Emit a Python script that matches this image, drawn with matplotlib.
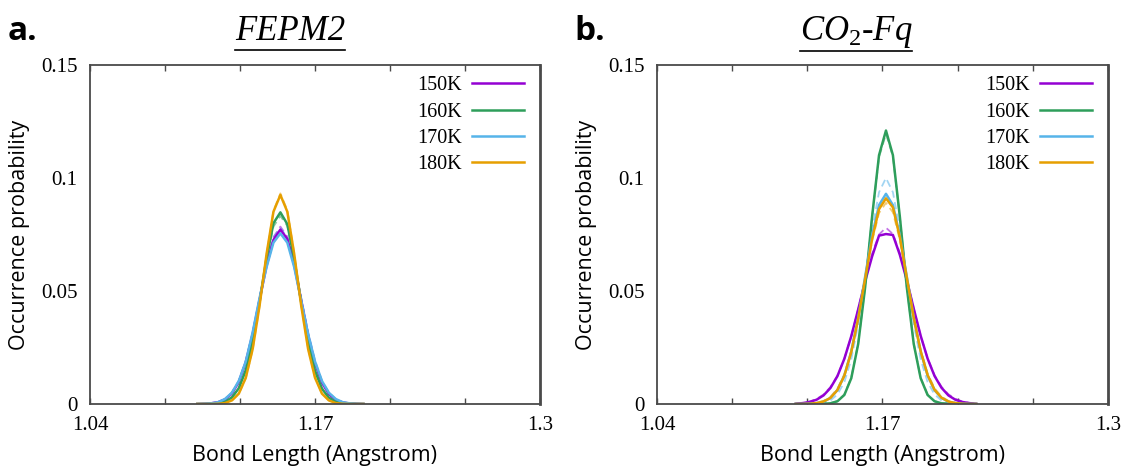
import matplotlib
matplotlib.use("Agg")
import matplotlib.pyplot as plt
from matplotlib.lines import Line2D

# ---------------- data ----------------
temps = ["150K", "160K", "170K", "180K"]
colors = ["#9400d3", "#2e9e5b", "#56b4e9", "#e69f00"]

# Panel a: FEPM2
x_fepm2 = [1.102, 1.106, 1.110, 1.114, 1.118, 1.122, 1.126, 1.130, 1.134, 1.138,
           1.142, 1.146, 1.150, 1.154, 1.158, 1.162, 1.166, 1.170, 1.174, 1.178,
           1.182, 1.186, 1.190, 1.194, 1.198]
fepm2_150_solid = [0.0000, 0.0001, 0.0003, 0.0008, 0.0020, 0.0047, 0.0098, 0.0185, 0.0310, 0.0462,
                   0.0612, 0.0726, 0.0772, 0.0730, 0.0615, 0.0460, 0.0305, 0.0180, 0.0095, 0.0045,
                   0.0018, 0.0007, 0.0002, 0.0001, 0.0000]
fepm2_150_dash = [0.0000, 0.0001, 0.0003, 0.0008, 0.0019, 0.0046, 0.0097, 0.0184, 0.0312, 0.0466,
                  0.0618, 0.0738, 0.0785, 0.0741, 0.0622, 0.0465, 0.0308, 0.0182, 0.0096, 0.0044,
                  0.0018, 0.0007, 0.0002, 0.0001, 0.0000]
fepm2_160_solid = [0.0000, 0.0000, 0.0001, 0.0003, 0.0010, 0.0029, 0.0070, 0.0149, 0.0279, 0.0455,
                   0.0645, 0.0800, 0.0848, 0.0796, 0.0641, 0.0451, 0.0276, 0.0147, 0.0068, 0.0028,
                   0.0010, 0.0003, 0.0001, 0.0000, 0.0000]
fepm2_160_dash = [0.0000, 0.0000, 0.0001, 0.0003, 0.0011, 0.0030, 0.0072, 0.0152, 0.0283, 0.0458,
                  0.0640, 0.0785, 0.0832, 0.0788, 0.0642, 0.0456, 0.0280, 0.0150, 0.0070, 0.0029,
                  0.0011, 0.0003, 0.0001, 0.0000, 0.0000]
fepm2_170_solid = [0.0000, 0.0001, 0.0003, 0.0008, 0.0022, 0.0050, 0.0102, 0.0188, 0.0318, 0.0470,
                   0.0605, 0.0714, 0.0755, 0.0714, 0.0605, 0.0458, 0.0310, 0.0188, 0.0102, 0.0050,
                   0.0022, 0.0008, 0.0003, 0.0001, 0.0000]
fepm2_170_dash = [0.0000, 0.0001, 0.0003, 0.0009, 0.0023, 0.0052, 0.0105, 0.0193, 0.0318, 0.0472,
                  0.0623, 0.0738, 0.0780, 0.0737, 0.0625, 0.0472, 0.0320, 0.0194, 0.0105, 0.0052,
                  0.0022, 0.0008, 0.0003, 0.0001, 0.0000]
fepm2_180_solid = [0.0000, 0.0000, 0.0000, 0.0001, 0.0004, 0.0016, 0.0046, 0.0116, 0.0244, 0.0437,
                   0.0663, 0.0851, 0.0925, 0.0851, 0.0663, 0.0437, 0.0244, 0.0116, 0.0046, 0.0016,
                   0.0004, 0.0001, 0.0000, 0.0000, 0.0000]
fepm2_180_dash = [0.0000, 0.0000, 0.0000, 0.0001, 0.0004, 0.0015, 0.0045, 0.0114, 0.0240, 0.0433,
                  0.0660, 0.0855, 0.0932, 0.0858, 0.0666, 0.0440, 0.0246, 0.0118, 0.0047, 0.0016,
                  0.0004, 0.0001, 0.0000, 0.0000, 0.0000]

# Panel b: CO2-Fq
x_co2 = [1.120, 1.124, 1.128, 1.132, 1.136, 1.140, 1.144, 1.148, 1.152, 1.156,
         1.160, 1.164, 1.168, 1.172, 1.176, 1.180, 1.184, 1.188, 1.192, 1.196,
         1.200, 1.204, 1.208, 1.212, 1.216, 1.220, 1.224]
co2_150_solid = [0.0001, 0.0004, 0.0009, 0.0019, 0.0038, 0.0071, 0.0123, 0.0200, 0.0300, 0.0419,
                 0.0543, 0.0653, 0.0745, 0.0752, 0.0748, 0.0660, 0.0548, 0.0422, 0.0302, 0.0201,
                 0.0124, 0.0072, 0.0038, 0.0019, 0.0009, 0.0004, 0.0001]
co2_150_dash = [0.0002, 0.0005, 0.0011, 0.0022, 0.0042, 0.0075, 0.0125, 0.0200, 0.0300, 0.0420,
                0.0550, 0.0665, 0.0750, 0.0780, 0.0752, 0.0668, 0.0552, 0.0422, 0.0302, 0.0202,
                0.0127, 0.0076, 0.0043, 0.0023, 0.0011, 0.0005, 0.0002]
co2_160_solid = [0.0000, 0.0000, 0.0000, 0.0000, 0.0001, 0.0003, 0.0012, 0.0040, 0.0114, 0.0266,
                 0.0517, 0.0829, 0.1101, 0.1210, 0.1101, 0.0829, 0.0517, 0.0266, 0.0114, 0.0040,
                 0.0012, 0.0003, 0.0001, 0.0000, 0.0000, 0.0000, 0.0000]
co2_160_dash = [0.0000, 0.0000, 0.0000, 0.0000, 0.0001, 0.0004, 0.0013, 0.0042, 0.0117, 0.0270,
                0.0520, 0.0828, 0.1092, 0.1195, 0.1095, 0.0826, 0.0519, 0.0268, 0.0116, 0.0041,
                0.0013, 0.0004, 0.0001, 0.0000, 0.0000, 0.0000, 0.0000]
co2_170_solid = [0.0000, 0.0000, 0.0001, 0.0004, 0.0010, 0.0027, 0.0061, 0.0126, 0.0232, 0.0382,
                 0.0564, 0.0745, 0.0880, 0.0930, 0.0880, 0.0745, 0.0564, 0.0382, 0.0232, 0.0126,
                 0.0061, 0.0027, 0.0010, 0.0004, 0.0001, 0.0000, 0.0000]
co2_170_dash = [0.0000, 0.0000, 0.0000, 0.0002, 0.0005, 0.0016, 0.0042, 0.0097, 0.0197, 0.0354,
                0.0558, 0.0771, 0.0937, 0.1000, 0.0937, 0.0771, 0.0558, 0.0354, 0.0197, 0.0097,
                0.0042, 0.0016, 0.0005, 0.0002, 0.0000, 0.0000, 0.0000]
co2_180_solid = [0.0000, 0.0000, 0.0001, 0.0004, 0.0011, 0.0027, 0.0062, 0.0125, 0.0230, 0.0378,
                 0.0555, 0.0730, 0.0862, 0.0910, 0.0870, 0.0738, 0.0560, 0.0382, 0.0234, 0.0128,
                 0.0063, 0.0028, 0.0011, 0.0004, 0.0001, 0.0000, 0.0000]
co2_180_dash = [0.0000, 0.0001, 0.0002, 0.0006, 0.0014, 0.0032, 0.0068, 0.0132, 0.0236, 0.0380,
                0.0552, 0.0720, 0.0845, 0.0890, 0.0848, 0.0725, 0.0556, 0.0385, 0.0240, 0.0135,
                0.0070, 0.0033, 0.0014, 0.0006, 0.0002, 0.0001, 0.0000]

x_ticks = [1.04, 1.04 + 0.13 / 3, 1.04 + 0.26 / 3, 1.17, 1.17 + 0.13 / 3, 1.17 + 0.26 / 3, 1.30]
x_ticklabels = ["1.04", "", "", "1.17", "", "", "1.3"]
y_ticks = [0, 0.05, 0.1, 0.15]
y_ticklabels = ["0", "0.05", "0.1", "0.15"]

panels = [
    dict(x=x_fepm2,
         solid=[fepm2_150_solid, fepm2_160_solid, fepm2_170_solid, fepm2_180_solid],
         dash=[fepm2_150_dash, fepm2_160_dash, fepm2_170_dash, fepm2_180_dash]),
    dict(x=x_co2,
         solid=[co2_150_solid, co2_160_solid, co2_170_solid, co2_180_solid],
         dash=[co2_150_dash, co2_160_dash, co2_170_dash, co2_180_dash]),
]

# ---------------- figure ----------------
plt.rcParams["mathtext.fontset"] = "custom"
plt.rcParams["mathtext.it"] = "Liberation Serif:italic"
plt.rcParams["mathtext.rm"] = "Liberation Serif"

W, H = 1126, 466
fig = plt.figure(figsize=(W / 100, H / 100), dpi=100)

axes_px = [(90, 65, 540, 404), (657, 65, 1108, 404)]
serif = "Liberation Serif"
sans = "Open Sans"
spine_c = "#4a4a4a"

for (x0, y0, x1, y1), p in zip(axes_px, panels):
    ax = fig.add_axes([x0 / W, 1 - y1 / H, (x1 - x0) / W, (y1 - y0) / H])
    for c, ys in zip(colors, p["dash"]):
        ax.plot(p["x"], ys, color=c, lw=1.3, ls=(0, (4, 2.5)), alpha=0.55)
    for c, ys, t in zip(colors, p["solid"], temps):
        ax.plot(p["x"], ys, color=c, lw=1.8, label=t)
    ax.set_xlim(1.04, 1.30)
    ax.set_ylim(0, 0.15)
    ax.set_xticks(x_ticks)
    ax.set_xticklabels(x_ticklabels, fontfamily=serif, fontsize=15)
    ax.set_yticks(y_ticks)
    ax.set_yticklabels(y_ticklabels, fontfamily=serif, fontsize=15)
    ax.tick_params(axis="x", direction="in", length=4, width=1, color=spine_c,
                   top=True, pad=9)
    ax.tick_params(axis="y", direction="in", length=0, pad=9)
    for s in ax.spines.values():
        s.set_color(spine_c)
        s.set_linewidth(1.3)
    ax.spines["right"].set_linewidth(2.0)
    ax.set_xlabel("Bond Length (Angstrom)", fontfamily=sans, fontsize=15.5, labelpad=7)
    ax.set_ylabel("Occurrence probability", fontfamily=sans, fontsize=15.5, labelpad=8)
    leg = ax.legend(loc="upper right", bbox_to_anchor=(0.965, 0.967), frameon=False,
                    markerfirst=False, handlelength=2.6, handletextpad=0.5,
                    labelspacing=0.36, borderpad=0, borderaxespad=0,
                    prop=dict(family=serif, size=14.5))

# titles and panel labels
titles = [(290, 32, "FEPM2"), (856, 32, r"$CO_2$-$Fq$")]
title_objs = []
for xc, yc, t in titles:
    tt = fig.text(xc / W, 1 - yc / H, t, ha="center", va="center",
                  fontfamily=serif, fontstyle="italic", fontsize=25)
    title_objs.append(tt)
fig.text(8 / W, 1 - 32 / H, "a.", ha="left", va="center", fontfamily=sans,
         fontweight="bold", fontsize=24)
fig.text(574 / W, 1 - 32 / H, "b.", ha="left", va="center", fontfamily=sans,
         fontweight="bold", fontsize=24)

fig.canvas.draw()
r = fig.canvas.get_renderer()
for tt in title_objs:
    bb = tt.get_window_extent(r)
    yl = bb.y0 - 1
    fig.add_artist(Line2D([bb.x0 / W, bb.x1 / W], [yl / H, yl / H],
                          transform=fig.transFigure, color="black", lw=1.2))

fig.savefig("out.png", dpi=100)
